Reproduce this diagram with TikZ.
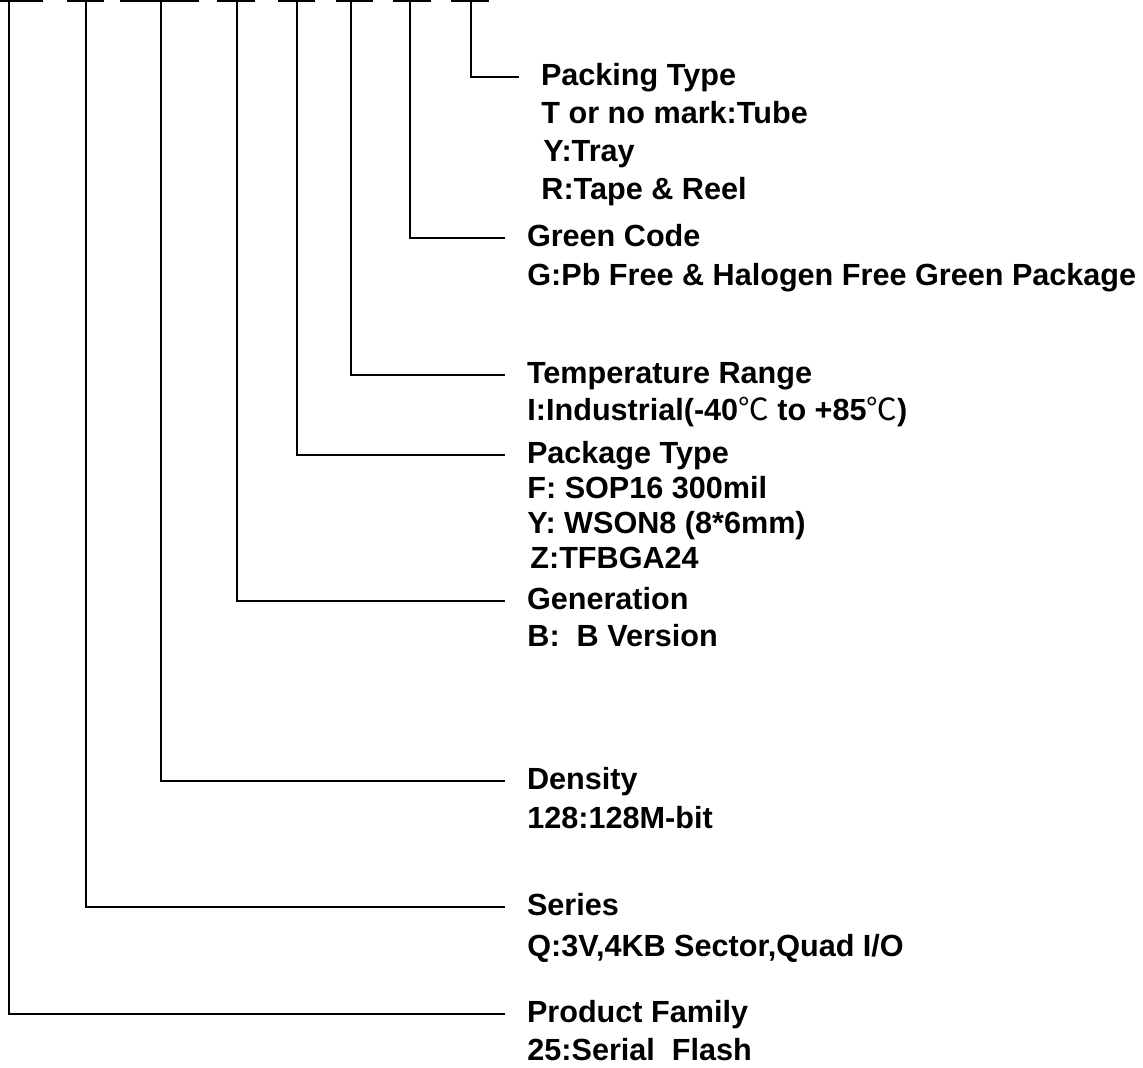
\documentclass[tikz,border=0pt]{standalone}
\usepackage{fontspec}
\setmainfont{Liberation Sans}
\newfontfamily\cjk{Noto Sans CJK SC}
\newcommand{\degC}{{\cjk\mdseries ℃}}

\begin{document}
\begin{tikzpicture}[x=0.5pt, y=-0.5pt,
    bar/.style={line width=1.1pt},
    lbl/.style={font=\fontsize{15.3}{18}\selectfont\bfseries, inner sep=0pt,
        anchor=west, text height=11pt, text depth=3pt},
    head/.style={lbl, outer xsep=11pt}]
    \useasboundingbox (0,0) rectangle (1143,1067);

    % Dashes of the part number
    \foreach \a/\b in {0/43, 67/104, 120/199, 217/255, 278/315, 336/373, 393/431, 451/489}
        \draw[bar] (\a,1.1) -- (\b,1.1);

    % Top of each field
    \coordinate (fam) at (9,1);
    \coordinate (ser) at (86,1);
    \coordinate (den) at (161,1);
    \coordinate (gen) at (237,1);
    \coordinate (pkg) at (297,1);
    \coordinate (tmp) at (351,1);
    \coordinate (grn) at (410,1);
    \coordinate (pck) at (471,1);

    % Packing Type
    \node[head] (pack) at (519,77) {Packing Type};
    \node[lbl] (pack1) at (541,115) {T or no mark:Tube};
    \node[lbl] (pack2) at (543,153) {Y:Tray};
    \node[lbl] (pack3) at (541,191) {R:Tape \& Reel};
    \draw[bar] (pck) |- (pack.west);

    % Green Code
    \node[head] (green) at (505,238) {Green Code};
    \node[lbl] (green1) at (527,277) {G:Pb Free \& Halogen Free Green Package};
    \draw[bar] (grn) |- (green.west);

    % Temperature Range
    \node[head] (temp) at (505,375) {Temperature Range};
    \node[lbl] (temp1) at (527,412) {I:Industrial(-40\degC\ to +85\degC)};
    \draw[bar] (tmp) |- (temp.west);

    % Package Type
    \node[head] (pkgt) at (505,455) {Package Type};
    \node[lbl] (pkgt1) at (527,490) {F: SOP16 300mil};
    \node[lbl] (pkgt2) at (527,525) {Y: WSON8 (8*6mm)};
    \node[lbl] (pkgt3) at (530,560) {Z:TFBGA24};
    \draw[bar] (pkg) |- (pkgt.west);

    % Generation
    \node[head] (gener) at (505,601) {Generation};
    \node[lbl] (gener1) at (527,638) {B:\ \ B Version};
    \draw[bar] (gen) |- (gener.west);

    % Density
    \node[head] (dens) at (505,781) {Density};
    \node[lbl] (dens1) at (527,820) {128:128M-bit};
    \draw[bar] (den) |- (dens.west);

    % Series
    \node[head] (series) at (505,907) {Series};
    \node[lbl] (series1) at (527,948) {Q:3V,4KB Sector,Quad I/O};
    \draw[bar] (ser) |- (series.west);

    % Product Family
    \node[head] (family) at (505,1014) {Product Family};
    \node[lbl] (family1) at (527,1052) {25:Serial\ \ Flash};
    \draw[bar] (fam) |- (family.west);
\end{tikzpicture}
\end{document}
